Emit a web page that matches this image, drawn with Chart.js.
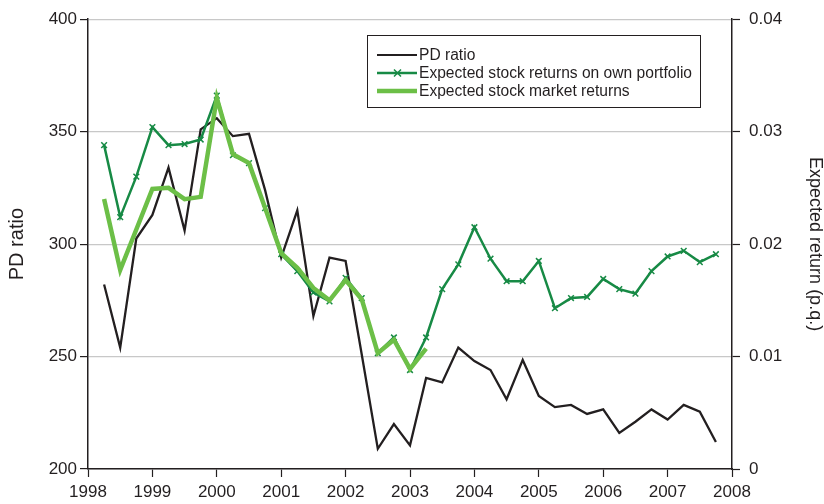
<!DOCTYPE html>
<html>
<head>
<meta charset="utf-8">
<script src="https://cdn.jsdelivr.net/npm/chart.js@4/dist/chart.umd.min.js"></script>
<style>
  html, body { margin: 0; padding: 0; background: #fff; }
  canvas { display: block; }
</style>
</head>
<body>
<canvas id="chart" width="824" height="504"></canvas>
<script>
const quarters = [
  1998.25, 1998.5, 1998.75,
  1999.0, 1999.25, 1999.5, 1999.75,
  2000.0, 2000.25, 2000.5, 2000.75,
  2001.0, 2001.25, 2001.5, 2001.75,
  2002.0, 2002.25, 2002.5, 2002.75,
  2003.0, 2003.25, 2003.5, 2003.75,
  2004.0, 2004.25, 2004.5, 2004.75,
  2005.0, 2005.25, 2005.5, 2005.75,
  2006.0, 2006.25, 2006.5, 2006.75,
  2007.0, 2007.25, 2007.5, 2007.75
];

// left axis
const pdRatio = [
  282, 254, 302.5,
  313, 334, 306, 351,
  356, 348, 349, 324,
  294, 315, 268, 294,
  292.5, 251, 209, 220,
  210.5, 240.5, 238.5, 254,
  248, 244, 231, 248.5,
  232.5, 227.5, 228.5, 224.5,
  226.5, 216, 221, 226.5,
  222, 228.5, 225.5, 212
];

// right axis (p.q.)
const ownReturns = [
  0.0288, 0.0224, 0.0260,
  0.0304, 0.0288, 0.0289, 0.0293,
  0.0332, 0.0279, 0.0272, 0.0232,
  0.0191, 0.0176, 0.0157, 0.0149,
  0.0170, 0.0152, 0.0103, 0.0117,
  0.0088, 0.0117, 0.0160, 0.0182,
  0.0215, 0.0187, 0.0167, 0.0167,
  0.0185, 0.0143, 0.0152, 0.0153,
  0.0169, 0.0160, 0.0156, 0.0176,
  0.0189, 0.0194, 0.0184, 0.0191
];

const marketReturns = [
  0.0240, 0.0177, 0.0213,
  0.0249, 0.0250, 0.0240, 0.0242,
  0.0330, 0.0280, 0.0272, 0.0232,
  0.0192, 0.0179, 0.0161, 0.0150,
  0.0168, 0.0151, 0.0103, 0.0115,
  0.0089, 0.0107
];

const seriesNames = ["PD ratio", "Expected stock returns on own portfolio", "Expected stock market returns"];

const BLACK = "#231f20";
const DARK_GREEN = "#178a45";
const LIGHT_GREEN = "#6cbf47";
const FONT = "'Liberation Sans', Arial, Helvetica, sans-serif";

function pairs(values) {
  return values.map((v, i) => ({x: quarters[i], y: v}));
}

// legend box drawn inside the plot, like the original
const boxLegend = {
  id: "boxLegend",
  afterDraw(chart) {
    const ctx = chart.ctx;
    const left = 367, top = 35, w = 333, h = 72;
    ctx.save();
    ctx.fillStyle = "#fff";
    ctx.fillRect(left, top, w, h);
    ctx.strokeStyle = BLACK;
    ctx.lineWidth = 1;
    ctx.strokeRect(left + 0.5, top + 0.5, w, h);
    const rows = [
      {color: BLACK, width: 2, marker: false},
      {color: DARK_GREEN, width: 2.5, marker: true},
      {color: LIGHT_GREEN, width: 4.5, marker: false}
    ];
    ctx.font = "15.6px " + FONT;
    ctx.textBaseline = "middle";
    rows.forEach((r, i) => {
      const y = top + 20 + i * 18;
      ctx.strokeStyle = r.color;
      ctx.lineWidth = r.width;
      ctx.beginPath();
      ctx.moveTo(377, y);
      ctx.lineTo(417, y);
      ctx.stroke();
      if (r.marker) {
        ctx.lineWidth = 1.5;
        ctx.beginPath();
        ctx.moveTo(394, y - 3.5); ctx.lineTo(401, y + 3.5);
        ctx.moveTo(394, y + 3.5); ctx.lineTo(401, y - 3.5);
        ctx.stroke();
      }
      ctx.fillStyle = BLACK;
      ctx.fillText(seriesNames[i], 419, y + 1);
    });
    ctx.restore();
  }
};

new Chart(document.getElementById("chart"), {
  type: "line",
  data: {
    datasets: [
      {
        label: seriesNames[0], data: pairs(pdRatio), yAxisID: "y",
        borderColor: BLACK, borderWidth: 2.3, pointRadius: 0, order: 2
      },
      {
        label: seriesNames[1], data: pairs(ownReturns), yAxisID: "y1",
        borderColor: DARK_GREEN, borderWidth: 2.5,
        pointStyle: "crossRot", pointRadius: 4, pointBorderWidth: 1.5,
        pointBorderColor: DARK_GREEN, order: 1
      },
      {
        label: seriesNames[2], data: pairs(marketReturns), yAxisID: "y1",
        borderColor: LIGHT_GREEN, borderWidth: 4.5, pointRadius: 0, order: 0
      }
    ]
  },
  options: {
    responsive: false,
    animation: false,
    events: [],
    layout: {padding: {top: 16, left: 0, right: 0, bottom: 0}, autoPadding: false},
    elements: {line: {tension: 0, borderCapStyle: "butt", borderJoinStyle: "miter"}},
    plugins: {legend: {display: false}, tooltip: {enabled: false}},
    scales: {
      x: {
        type: "linear", min: 1998, max: 2008,
        ticks: {stepSize: 1, color: BLACK, font: {family: FONT, size: 17}, padding: 5, maxRotation: 0,
          callback: v => String(v)},
        grid: {drawOnChartArea: false, tickLength: 8, tickColor: BLACK, tickWidth: 1.2},
        border: {display: true, color: BLACK, width: 1.5},
        afterFit: s => { s.height = 35; }
      },
      y: {
        position: "left", min: 200, max: 400,
        ticks: {stepSize: 50, color: BLACK, font: {family: FONT, size: 17}, padding: 3},
        grid: {color: "#c8c8c8", lineWidth: 1.2, tickLength: 8, tickColor: BLACK, tickWidth: 1.2},
        border: {display: true, color: BLACK, width: 1.5},
        title: {display: true, text: "PD ratio", color: BLACK, font: {family: FONT, size: 20, lineHeight: 1}, padding: {top: 7, bottom: 0}},
        afterFit: s => { s.width = 88; }
      },
      y1: {
        position: "right", min: 0, max: 0.04,
        ticks: {stepSize: 0.01, color: BLACK, font: {family: FONT, size: 17}, padding: 9,
          callback: v => (Math.abs(v) < 1e-9 ? "0" : v.toFixed(2))},
        grid: {drawOnChartArea: false, tickLength: 8, tickColor: BLACK, tickWidth: 1.2},
        border: {display: true, color: BLACK, width: 1.5},
        title: {display: true, text: "Expected return (p.q.)", color: BLACK, font: {family: FONT, size: 18, lineHeight: 1}, padding: {top: 0, bottom: 0}},
        afterFit: s => { s.width = 92; }
      }
    }
  },
  plugins: [boxLegend]
});
</script>
</body>
</html>
